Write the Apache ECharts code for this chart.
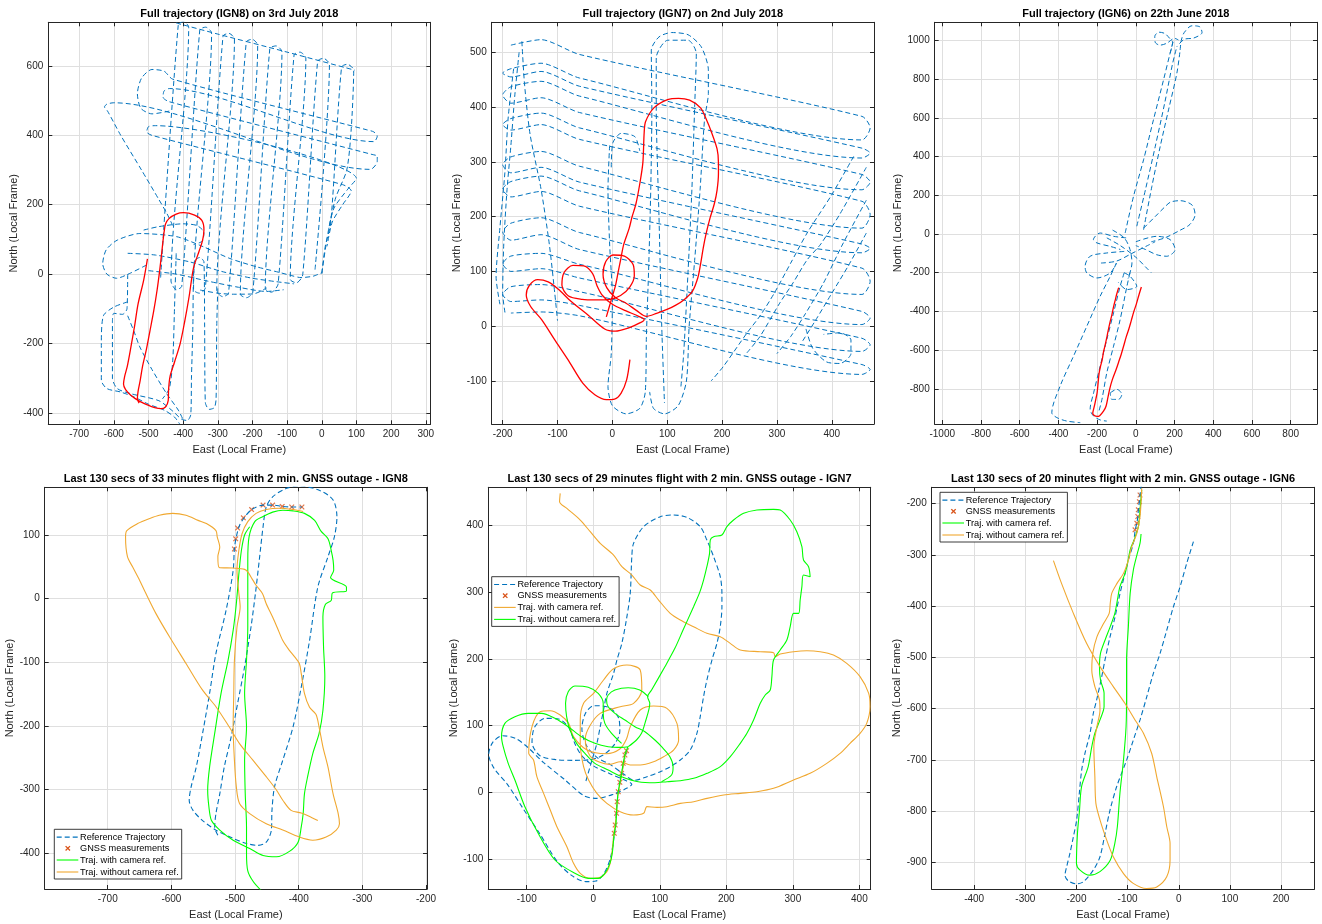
<!DOCTYPE html>
<html><head><meta charset="utf-8">
<script src="https://cdn.jsdelivr.net/npm/echarts@6.0.0/dist/echarts.min.js"></script>
<style>html,body{margin:0;padding:0;background:#fff}#c{width:1322px;height:924px}</style>
</head><body><div id="c"></div>
<script>
// ---------------- IGN8 ----------------
const ign8FullLanes = [[-465,-10],[-414,720],[-399,728],[-384,712],[-435,-20],[-420,-45],[-404,-35],[-352,704],[-335,712],[-318,695],[-370,-45],[-353,-55],[-336,-40],[-285,686],[-268,694],[-252,678],[-303,-48],[-286,-65],[-269,-55],[-218,669],[-201,677],[-185,660],[-235,-58],[-217,-68],[-199,-52],[-150,650],[-132,658],[-115,641],[-163,-42],[-145,-52],[-126,-28],[-80,632],[-63,640],[-46,623],[-91,-15],[-73,-25],[-55,-2],[-12,614],[5,622],[22,605],[-20,8]];
const ign8FullLanesEast = [[0,2],[10,80],[26,150],[57,597],[74,605],[92,588],[85,420],[72,300],[40,220],[20,130]];
const ign8FullTopEdge = [[-420,724],[-300,692],[-100,640],[95,588]];
const ign8FullSlantA = [[-440,470],[-490,462],[-522,478],[-532,520],[-520,565],[-490,590],[-455,585],[-430,562],[130,416],[150,410],[160,398],[150,382],[-440,535],[-455,528],[-458,510],[-440,497],[145,345],[160,340],[160,325],[140,302],[-600,494],[-620,490],[-627,482],[-618,470],[-580,400],[-520,300],[-470,215],[-447,175],[-430,140]];
const ign8FullSlantB = [[0,2],[18,120],[35,190],[75,245],[100,275],[-480,428],[-500,425],[-505,410],[-490,400],[60,258],[85,240],[60,200],[30,150],[15,80]];
const ign8FullBand1 = [[-506,26],[-554,2],[-592,-12],[-620,0],[-632,30],[-622,70],[-590,98],[-525,117],[-419,108],[-342,79],[-265,45],[-188,21],[-131,7],[-92,-3],[-60,-10],[-25,-6],[0,4]];
const ign8FullBand2 = [[-560,60],[-480,55],[-380,35],[-290,8],[-200,-12],[-130,-22],[-80,-28]];
const ign8FullBand3 = [[-500,10],[-420,0],[-330,-20],[-240,-38],[-160,-50],[-110,-45]];
const ign8FullBand4 = [[-351,-46],[-300,-55],[-255,-58],[-197,-57],[-159,-40]];
const ign8FullBand5 = [[-514,127],[-470,137],[-400,145],[-360,140],[-340,120],[-345,95],[-370,85]];
const ign8FullSouth1 = [[-560,0],[-562,-100],[-575,-116],[-600,-113],[-604,-140],[-604,-300],[-590,-330],[-550,-345],[-470,-365],[-430,-395],[-405,-418],[-388,-422],[-378,-405],[-376,-300],[-372,-150],[-370,0],[-365,40],[-352,48],[-340,35],[-338,-150],[-336,-370],[-325,-390],[-310,-385],[-305,-360],[-303,-150],[-300,-40]];
const ign8FullSouth2 = [[-560,-80],[-600,-95],[-630,-120],[-636,-200],[-636,-306],[-620,-330],[-580,-340],[-540,-355],[-500,-375],[-455,-392],[-425,-412],[-410,-432]];
const ign8FullSouth3 = [[-560,-120],[-540,-170],[-525,-210],[-490,-275],[-448,-344],[-414,-392],[-400,-420]];
const ign8FullSouth4 = [[-420,60],[-425,-100],[-430,-250],[-440,-330],[-460,-360]];
// last 130 s reference (time order) and GNSS part
const ign8Last = [[-527,-372],[-532,-359],[-530,-338],[-524,-307],[-517,-265],[-506,-217],[-496,-165],[-485,-107],[-475,-45],[-468,8],[-462,60],[-456,113],[-451,144],[-441,160],[-420,173],[-399,177],[-367,170],[-346,155],[-340,128],[-344,97],[-354,66],[-370,18],[-383,-66],[-396,-139],[-409,-202],[-425,-254],[-438,-296],[-442,-333],[-443,-364],[-451,-383],[-464,-388],[-482,-385],[-503,-377],[-530,-364],[-551,-349],[-566,-333],[-572,-317],[-569,-296],[-561,-265],[-551,-212],[-540,-149],[-530,-86],[-514,-18],[-503,44]];
const ign8GnssPath = [[-503,44],[-501,79],[-498,97],[-493,115],[-485,128],[-474,140],[-456,147],[-441,147],[-426,145],[-411,144],[-395,144]];
const ign8Gnss = [[-501,78],[-499,94],[-496,111],[-487,127],[-474,140],[-456,147],[-441,147],[-426,145],[-411,144],[-395,144]];
const ign8With = [[-459,-459],[-472,-444],[-480,-428],[-482,-401],[-482,-359],[-484,-307],[-485,-254],[-482,-202],[-485,-149],[-482,-97],[-480,-45],[-480,8],[-480,60],[-478,97],[-469,121],[-456,129],[-441,136],[-425,139],[-409,138],[-391,134],[-375,123],[-365,106],[-354,94],[-349,76],[-346,60],[-345,45],[-350,33],[-325,18],[-325,12],[-347,9],[-349,-3],[-358,-9],[-362,-29],[-361,-76],[-359,-123],[-362,-176],[-368,-212],[-378,-244],[-386,-280],[-391,-307],[-393,-338],[-396,-359],[-401,-383],[-414,-397],[-435,-406],[-456,-404],[-477,-393],[-503,-380],[-524,-364],[-537,-349],[-541,-328],[-543,-301],[-540,-265],[-532,-212],[-522,-149],[-511,-97],[-503,-50],[-498,-8],[-494,39],[-490,76],[-485,100],[-477,113]];
const ign8Without = [[-393,137],[-409,140],[-430,142],[-451,140],[-467,134],[-480,121],[-489,102],[-494,76],[-497,45],[-494,8],[-492,-13],[-497,-45],[-501,-97],[-502,-149],[-503,-202],[-501,-254],[-498,-296],[-493,-322],[-477,-338],[-451,-354],[-425,-364],[-399,-375],[-378,-380],[-357,-375],[-341,-364],[-336,-354],[-338,-338],[-346,-307],[-354,-265],[-362,-233],[-368,-202],[-373,-182],[-383,-171],[-391,-149],[-396,-118],[-399,-102],[-406,-92],[-415,-81],[-425,-66],[-434,-45],[-441,-29],[-451,-8],[-457,8],[-467,21],[-472,29],[-480,42],[-485,46],[-503,48],[-525,49],[-527,66],[-524,81],[-528,97],[-530,107],[-545,118],[-558,123],[-577,131],[-598,134],[-619,131],[-634,126],[-653,118],[-670,107],[-672,97],[-669,66],[-661,50],[-650,29],[-640,8],[-624,-24],[-603,-60],[-577,-102],[-551,-144],[-530,-170],[-509,-202],[-493,-228],[-472,-254],[-451,-280],[-435,-301],[-425,-317],[-412,-333],[-396,-337],[-380,-344],[-370,-349]];

// ---------------- IGN7 ----------------
const ign7FullEW = [[-185,513],[-130,523],[-60,496],[455,383],[470,362],[455,340],[-60,453],[-130,480],[-185,470],[-200,462],[-185,455],[-130,465],[-60,438],[455,325],[470,316],[455,307],[-60,420],[-130,447],[-185,437],[-200,422],[-185,407],[-130,417],[-60,390],[455,277],[470,263],[455,249],[-60,362],[-130,389],[-185,379],[-200,368],[-185,358],[-130,368],[-60,341],[455,228],[470,204],[455,179],[-60,292],[-130,319],[-185,309],[-200,295],[-185,280],[-130,290],[-60,263],[455,150],[470,142],[455,134],[-60,247],[-130,274],[-185,264],[-200,250],[-185,236],[-130,246],[-60,219],[455,106],[470,82],[455,58],[-60,171],[-130,198],[-185,188],[-200,172],[-185,157],[-130,167],[-60,140],[455,27],[470,15],[455,3],[-60,113],[-130,133],[-185,128],[-200,114],[-185,100],[-130,105],[-60,88],[455,-22],[470,-34],[455,-46],[-60,63],[-130,76],[-185,72],[-200,58],[-185,45],[-130,48],[-60,38],[455,-70],[470,-79],[455,-88],[-60,19],[-130,26],[-185,24]];
const ign7FullWest1 = [[-170,500],[-178,420],[-185,330],[-192,250],[-198,150],[-200,60],[-195,20]];
const ign7FullWest2 = [[-180,470],[-190,380],[-196,280],[-205,180],[-212,90],[-205,40]];
const ign7FullNS1 = [[-165,520],[-160,440],[-150,350],[-130,250],[-115,150],[-105,60],[-100,10]];
const ign7FullNS2 = [[-5,330],[-8,250],[-5,150],[0,50],[-2,-50],[-8,-110],[0,-145],[25,-160],[50,-150],[60,-120],[62,-20],[66,100],[70,250],[72,400],[71,504],[85,528],[108,536],[138,532],[162,510],[175,468],[175,425],[168,377],[160,250],[150,120],[140,0],[135,-100],[120,-145],[95,-160],[75,-150],[68,-120]];
const ign7FullNS3 = [[125,-110],[130,-50],[138,100],[145,250],[150,400],[153,498],[138,522],[101,522],[80,490],[80,400],[85,200],[90,0],[95,-140]];
const ign7FullNS4 = [[-2,290],[1,335],[16,352],[41,346],[50,320]];
const ign7FullDiag1 = [[440,310],[400,240],[355,170],[325,115],[295,60],[270,20],[245,-13],[202,-74],[180,-100]];
const ign7FullDiag2 = [[463,290],[415,205],[380,150],[355,121],[330,80],[305,42],[269,-19],[245,-49]];
const ign7FullDiag3 = [[463,230],[420,150],[385,79],[349,18],[325,-19],[300,-50]];
const ign7FullDiag4 = [[463,170],[430,110],[400,60],[370,10],[345,-30]];
const ign7FullLoopSE = [[353,-5],[365,-40],[390,-65],[415,-68],[435,-50],[435,-25],[415,-12],[385,-15]];
const ign7Last = [[-11,17],[-2,48],[5.5,73.5],[10.5,98.5],[15.5,123.5],[20.5,148.5],[30.6,178.5],[35.6,198.5],[43,223.5],[50,260],[55.6,298.5],[58,353.5],[60.6,373.5],[75.7,398.5],[100.7,413.5],[120.7,416],[140.8,412.5],[160.8,398.5],[170.8,378.5],[180.9,353.5],[190.9,323.5],[193.4,298.5],[193.4,278.5],[190.9,248.5],[185.9,223.5],[178.4,198.5],[170.8,168.5],[165.8,143.5],[160.8,113.5],[155.8,88.5],[145.8,63.5],[130.8,48.5],[115.7,38.5],[100.7,31],[80.7,23.5],[62,18],[45,28],[25,42],[6,52],[-10,70],[-17,95],[-12,118],[1,130],[22,128],[38,112],[40,92],[32,72],[15,56],[-5,49],[-30,48],[-55,49],[-80,55],[-92,75],[-88,98],[-72,111],[-52,110],[-36,96],[-28,74],[-18,56],[0,40],[25,28],[48,18],[58,12],[50,6],[30,-3],[5,-9],[-14,-5],[-44,20],[-75,45],[-99,68],[-117,81],[-136,85],[-151,75],[-157,57],[-149,36],[-129,12],[-105,-25],[-81,-61],[-54,-104],[-32,-125],[-11,-134],[4,-133],[16,-122],[26,-98],[32,-61]];
const ign7GnssPath = [[32,-61],[34,-40],[36,-14],[38,2],[42,25],[46,45],[50,62]];
const ign7Gnss = [[31.6,-61.5],[33,-49],[35,-31.5],[36,-14],[37.6,1],[40,15],[42.6,28.5],[45,43.5],[47.6,56],[50,62.5]];
const ign7With = [[-49.6,448.5],[-50.6,436],[-39.6,426],[-19.5,408.5],[-4.5,391],[10.5,373.5],[30.6,356],[43.1,338.5],[58.1,326],[70.6,311],[85.7,303.5],[98.2,288.5],[115.7,268.5],[130.8,258.5],[150.8,248.5],[170.8,238.5],[190.9,233.5],[205.9,223.5],[221,213.5],[251,211],[271,209.5],[273.5,203.5],[281,207.5],[301,211],[321,212.5],[341,211],[361,206],[381,193.5],[401,173.5],[414,148.5],[416,128.5],[411,103.5],[401,88.5],[386,73.5],[371,58.5],[351,43.5],[326,28.5],[301,18.5],[271,6],[246,1],[221,-1.5],[196,-4],[171,-9],[151,-14],[131,-16.5],[110.7,-21.5],[95.7,-22.5],[80.7,-21.5],[75.7,-31.5],[60.6,-34],[40.6,-29],[20.5,-16.5],[5.5,-1.5],[-7,18.5],[-14.5,38.5],[-19.5,73.5],[-19.5,108.5],[-14.5,133.5],[0.5,148.5],[15.5,168.5],[30,185],[50.6,191],[70.6,183.5],[73,153.5],[60.6,133.5],[40.6,128.5],[10.5,118.5],[-5,100],[-12,80],[-5,55],[10,45],[25,42],[40.6,46],[55.6,41],[70.6,41],[90.7,46],[105.7,53.5],[120.7,63.5],[128.3,78.5],[125.8,103.5],[110.7,126],[90.7,129.5],[70.6,123.5],[55.6,98.5],[50,80],[40,65],[20,58],[-9.5,63.5],[-29.6,83.5],[-37,103.5],[-49.6,116],[-64.6,122.5],[-79.7,121],[-92,98.5],[-97,58.5],[-89.7,48.5],[-84.7,23.5],[-74.6,-1.5],[-64.6,-26.5],[-54.6,-51.5],[-39.6,-81.5],[-29.6,-106.5],[-19.5,-121.5],[-4.5,-129],[10.5,-127.5],[20.5,-119],[25.5,-106.5],[28,-91.5],[31,-62],[34,-40],[36,-14],[38,1],[43,28],[46,44],[48,56],[50,62]];
const ign7WithoutA = [[52,68],[47.6,56],[45,43.5],[42.6,28.5],[37.6,1],[36,-14],[35,-31.5],[34,-49],[31.6,-61.5],[28.6,-91.5],[25,-106.5],[17.5,-121.5],[7.5,-129],[-7.5,-129],[-27.6,-121.5],[-57.6,-101.5],[-82.7,-61.5],[-102.7,-21.5],[-117.7,18.5],[-127.8,43.5],[-135.3,68.5],[-137.8,83.5],[-132.8,103.5],[-117.7,113.5],[-97.7,118.5],[-77.7,118.5],[-57.6,111],[-37.6,98.5],[-17.5,83.5],[2.5,73.5],[22.5,68.5],[42.6,67.5],[52.6,68.5]];
const ign7WithoutB = [[52.6,68.5],[65,78.5],[72.6,88.5],[77.7,103.5],[85,133.5],[81.7,143.5],[87.7,153.5],[107.7,188.5],[122.7,216],[135,243.5],[150.8,278.5],[160,300],[165.8,318.5],[170.8,338.5],[174.8,358.5],[175.9,378.5],[180.9,383.5],[193.4,386],[200.9,398.5],[210.9,408.5],[226,418.5],[246,423.5],[271,424.5],[281,423.5],[296,408.5],[306,391],[313.6,368.5],[316,348.5],[323.6,338.5],[326,323.5],[316,326],[313.6,308.5],[311,288.5],[308.6,268.5],[301,268.5],[296,248.5],[291,228.5],[281,213.5],[271,198.5],[268.5,173.5],[266,153.5],[258.5,146],[251,133.5],[241,108.5],[231,88.5],[221,73.5],[206,53.5],[191,38.5],[171,28.5],[151,21],[131,17.5],[111,16],[92.7,14.5],[67.6,16],[42.6,23.5],[22.5,33.5],[2.5,43.5],[-12.5,58.5],[-25,73.5],[-35,93.5],[-40,113.5],[-41.6,133.5],[-37.6,151],[-27.6,159.5],[-7.5,157.5],[7.5,148.5],[15,133.5],[15,118.5],[17.5,103.5],[27.6,88.5],[42.6,73.5]];
const ign7WithoutC = [[102.7,16],[117.7,26],[120,38.5],[115.2,53.5],[102.7,68.5],[92.7,78.5],[77.7,91],[62.6,98.5],[47.6,108.5],[32.6,118.5],[22.5,128.5],[20,138.5],[22.5,146],[32.6,153.5],[52.6,157],[70,153.5],[82.7,143.5]];

// ---------------- IGN6 ----------------
const ign6FullCenter = [[5,40],[50,230],[100,450],[150,680],[190,880],[212,967]];
const ign6FullWestLine = [[-55,5],[-12,194],[40,383],[91,589],[143,795],[177,933],[195,1002]];
const ign6FullEastLine = [[40,22],[83,246],[126,452],[169,641],[212,830],[229,950]];
const ign6FullTopLoopW = [[177,933],[190,990],[175,1010],[150,1035],[120,1042],[98,1020],[100,990],[125,975],[160,985],[200,1010],[220,1002]];
const ign6FullTopLoopE = [[229,950],[235,1000],[250,1040],[290,1075],[330,1070],[342,1040],[300,1012],[250,1005],[212,967]];
const ign6FullMid1 = [[40,30],[100,90],[150,140],[180,165],[230,172],[290,150],[306,100],[280,50],[230,20],[150,-20],[80,-40]];
const ign6FullMid2 = [[-50,-20],[-115,-12],[-184,5],[-219,-29],[-201,-46],[-132,-64],[-80,-80]];
const ign6FullMid3 = [[-60,-90],[-150,-98],[-236,-115],[-262,-167],[-253,-201],[-201,-227],[-132,-201],[-100,-150]];
const ign6FullMid4 = [[0,-40],[108,-12],[177,-29],[203,-81],[160,-115],[108,-107],[50,-80],[0,-60]];
const ign6FullMid5 = [[-60,-200],[-29,-219],[5,-270],[-46,-287],[-90,-250]];
const ign6FullMid6 = [[-150,-20],[-80,-60],[0,-120],[60,-180],[80,-200]];
const ign6FullMid7 = [[-180,-150],[-100,-140],[-20,-100],[60,-60],[100,-40]];
const ign6FullMid8 = [[-120,20],[-60,-20],[-30,-80],[-20,-150],[-40,-230]];
const ign6FullSouth1 = [[-100,-150],[-132,-218],[-184,-321],[-253,-476],[-322,-631],[-391,-785],[-434,-923],[-408,-948],[-356,-966],[-287,-974]];
const ign6FullSouth2 = [[-60,-200],[-81,-270],[-115,-407],[-150,-545],[-184,-682],[-218,-820],[-236,-905],[-218,-940],[-184,-960],[-150,-966]];
const ign6FullSouth3 = [[-30,-200],[-46,-270],[-81,-442],[-115,-579],[-150,-717],[-175,-854],[-193,-923]];
const ign6FullSouthLoop = [[-132,-820],[-98,-802],[-72,-828],[-89,-854],[-124,-854],[-132,-820]];
const ign6Last = [[28.7,-274],[15.7,-316],[2.6,-362],[-10.4,-401],[-23.5,-447],[-36.5,-492],[-49.6,-531],[-62.6,-577],[-75.7,-622],[-88.7,-661],[-101.8,-700],[-121.3,-752],[-134.4,-798],[-144,-843],[-154,-889],[-167,-915],[-186.6,-938],[-199.6,-942],[-216,-936],[-222.4,-925],[-219,-908],[-212.7,-882],[-206,-850],[-199.6,-817],[-194.4,-765],[-189.8,-720],[-183.3,-687],[-173.5,-648],[-167,-609],[-160.5,-583],[-150.7,-538],[-144.2,-505],[-134.4,-460],[-124.6,-421],[-114.8,-375],[-105,-336],[-98.5,-310],[-88.7,-277]];
const ign6GnssPath = [[-88.7,-277],[-85,-251],[-82,-238],[-80,-225],[-79,-212],[-77,-196],[-75.7,-183],[-73.7,-167],[-72,-150]];
const ign6Gnss = [[-73.7,-167],[-75.7,-183],[-77,-196],[-79,-212],[-80,-225],[-82,-238],[-85.5,-251]];
const ign6With = [[-72.4,-173],[-75.7,-212],[-79,-245],[-87.4,-271],[-95,-290],[-100,-316],[-105,-336],[-115,-362],[-120,-388],[-125,-414],[-134,-440],[-144,-466],[-153,-492],[-155,-518],[-153,-544],[-146,-570],[-146,-596],[-154,-622],[-164,-648],[-170,-674],[-177,-713],[-190,-752],[-194,-798],[-198,-843],[-200,-902],[-193,-915],[-174,-925],[-154,-918],[-134,-896],[-125,-863],[-120,-830],[-115,-765],[-108,-700],[-103,-635],[-102,-570],[-102,-505],[-98.5,-440],[-95,-375],[-88.7,-329],[-81,-297],[-75.7,-277],[-73.7,-259]];
const ign6Without = [[-72.4,-170],[-75.7,-225],[-82,-258],[-92,-284],[-98.5,-310],[-108,-336],[-121,-356],[-131,-375],[-134,-395],[-136,-414],[-147,-434],[-160,-460],[-168,-492],[-170,-525],[-164,-557],[-155,-583],[-154,-603],[-160,-635],[-166,-674],[-164,-733],[-162,-785],[-154,-817],[-141,-856],[-128,-889],[-108,-922],[-89,-941],[-63,-951],[-43,-948],[-23.5,-928],[-17,-896],[-17,-863],[-23.5,-830],[-30,-791],[-43,-733],[-53,-687],[-69,-648],[-85.5,-622],[-105,-590],[-128,-557],[-154,-518],[-180,-473],[-206,-414],[-229,-356],[-245,-311]];

const titles = ['Full trajectory (IGN8) on 3rd July 2018','Full trajectory (IGN7) on 2nd July 2018','Full trajectory (IGN6) on 22th June 2018',
 'Last 130 secs of 33 minutes flight with 2 min. GNSS outage - IGN8','Last 130 secs of 29 minutes flight with 2 min. GNSS outage - IGN7','Last 130 secs of 20 minutes flight with 2 min. GNSS outage - IGN6'];
const xName = 'East (Local Frame)', yName = 'North (Local Frame)';
const legendNames = ['Reference Trajectory','GNSS measurements','Traj. with camera ref.','Traj. without camera ref.'];

// ---------------- layout / style ----------------
const FONT = '"Liberation Sans", Arial, Helvetica, sans-serif';
const AXC = '#262626', GRIDC = '#dfdfdf';
const BLUE = '#0072BD', RED = '#FF0000', GREEN = '#00FF00', ORANGE = '#F0A830', GNSSC = '#D95319';
const XSYM = 'path://M0,1.5L1.5,0L5,3.5L8.5,0L10,1.5L6.5,5L10,8.5L8.5,10L5,6.5L1.5,10L0,8.5L3.5,5Z';
const P = [
 {l:48.3,t:22.3,w:382,h:402,xr:[-789,313],xi:100,yr:[-433,726],yi:200,tt:8},
 {l:491.7,t:22.3,w:382.3,h:401.7,xr:[-220,477],xi:100,yr:[-178.5,554.7],yi:100,tt:8},
 {l:934.7,t:22.3,w:382.3,h:401.7,xr:[-1039,936],xi:200,yr:[-981,1093],yi:200,tt:8},
 {l:44.7,t:487.3,w:382.3,h:401.7,xr:[-799,-198.5],xi:100,yr:[-456.6,175],yi:100,tt:473},
 {l:488.3,t:487.3,w:382.4,h:401.7,xr:[-157.7,417],xi:100,yr:[-145,457.6],yi:100,tt:473},
 {l:931.7,t:487.3,w:382.6,h:401.7,xr:[-483,265],xi:100,yr:[-952,-168],yi:100,tt:473}
];
function fmt(iv){ return v => (Math.abs(v/iv - Math.round(v/iv)) < 1e-6 ? String(Math.round(v)) : ''); }
const grid=[], xAxis=[], yAxis=[], title=[], series=[], graphic=[];
P.forEach((p,i)=>{
  grid.push({left:p.l, top:p.t, width:p.w, height:p.h, containLabel:false});
  title.push({text:titles[i], left:p.l+p.w/2, top:p.tt, textAlign:'center', padding:0,
    textStyle:{fontSize:11, fontWeight:'bold', color:'#000', fontFamily:FONT}});
  [false,true].forEach(sec=>{
    const common = {type:'value', gridIndex:i, axisLine:{show:true,onZero:false,lineStyle:{color:AXC,width:1}},
      axisTick:{show:true,inside:true,length:4,lineStyle:{color:AXC,width:1}}};
    xAxis.push(Object.assign({}, common, {position: sec?'top':'bottom', min:p.xr[0], max:p.xr[1], minInterval:p.xi, maxInterval:p.xi,
      splitNumber:Math.round((p.xr[1]-p.xr[0])/p.xi),
      axisLabel:{show:!sec, margin:5, fontSize:10, color:AXC, fontFamily:FONT, formatter:fmt(p.xi)},
      splitLine:{show:!sec, lineStyle:{color:GRIDC,width:1}},
      name: sec?'':xName, nameLocation:'middle', nameGap:20, nameTextStyle:{fontSize:11,color:AXC,fontFamily:FONT}}));
    yAxis.push(Object.assign({}, common, {position: sec?'right':'left', min:p.yr[0], max:p.yr[1], minInterval:p.yi, maxInterval:p.yi,
      splitNumber:Math.round((p.yr[1]-p.yr[0])/p.yi),
      axisLabel:{show:!sec, margin:5, fontSize:10, color:AXC, fontFamily:FONT, formatter:fmt(p.yi)},
      splitLine:{show:!sec, lineStyle:{color:GRIDC,width:1}},
      name: sec?'':yName, nameLocation:'middle', nameGap:22, nameTextStyle:{fontSize:11,color:AXC,fontFamily:FONT}}));
  });
});
function ln(data, gi, color, dash, w, smooth){
  series.push({type:'line', xAxisIndex:2*gi, yAxisIndex:2*gi, data:data, symbol:'none', showSymbol:false,
    smooth: smooth==null?0.3:smooth, silent:true, animation:false,
    lineStyle:{color:color, width:w||1, type: dash?[5,3]:'solid'}});
}
function sc(data, gi){
  series.push({type:'scatter', xAxisIndex:2*gi, yAxisIndex:2*gi, data:data, symbol:XSYM, symbolSize:5.5,
    itemStyle:{color:GNSSC}, silent:true, animation:false});
}
// panel 1
[ign8FullLanes, ign8FullLanesEast, ign8FullTopEdge, ign8FullSlantA, ign8FullSlantB, ign8FullBand1, ign8FullBand2, ign8FullBand3,
 ign8FullBand4, ign8FullBand5, ign8FullSouth1, ign8FullSouth2, ign8FullSouth3, ign8FullSouth4].forEach(d=>ln(d,0,BLUE,true,1,0.25));
ln(ign8Last,0,RED,false,1.3);
// panel 2
[ign7FullEW, ign7FullWest1, ign7FullWest2, ign7FullNS1, ign7FullNS2, ign7FullNS3, ign7FullNS4, ign7FullDiag1, ign7FullDiag2,
 ign7FullDiag3, ign7FullDiag4, ign7FullLoopSE].forEach(d=>ln(d,1,BLUE,true,1,0.25));
ln(ign7Last,1,RED,false,1.3);
// panel 3
[ign6FullCenter, ign6FullWestLine, ign6FullEastLine, ign6FullTopLoopW, ign6FullTopLoopE, ign6FullMid1, ign6FullMid2, ign6FullMid3,
 ign6FullMid4, ign6FullMid5, ign6FullMid6, ign6FullMid7, ign6FullMid8, ign6FullSouth1, ign6FullSouth2, ign6FullSouth3, ign6FullSouthLoop].forEach(d=>ln(d,2,BLUE,true,1,0.3));
ln(ign6Last,2,RED,false,1.3);
// panel 4
ln(ign8Last.concat(ign8GnssPath),3,BLUE,true,1.1); sc(ign8Gnss,3); ln(ign8With,3,GREEN,false,1.1); ln(ign8Without,3,ORANGE,false,1.1);
// panel 5
ln(ign7Last.concat(ign7GnssPath),4,BLUE,true,1.1); sc(ign7Gnss,4); ln(ign7With,4,ORANGE,false,1.1);
ln(ign7WithoutA,4,GREEN,false,1.1); ln(ign7WithoutB,4,GREEN,false,1.1); ln(ign7WithoutC,4,GREEN,false,1.1);
// panel 6
ln(ign6Last.concat(ign6GnssPath),5,BLUE,true,1.1); sc(ign6Gnss,5); ln(ign6With,5,GREEN,false,1.1); ln(ign6Without,5,ORANGE,false,1.1);

// legends (drawn boxes)
function legendBox(x0,y0,c3,c4){
  const Z=100, rows=[7.8,19,30.7,42.7], ch=[
    {type:'rect', z:Z, shape:{x:x0,y:y0,width:127.4,height:49.7}, style:{fill:'#fff',stroke:AXC,lineWidth:0.9}},
    {type:'line', z:Z+1, shape:{x1:x0+2.4,y1:y0+rows[0],x2:x0+24,y2:y0+rows[0]}, style:{stroke:BLUE,lineWidth:1.1,lineDash:[5,3]}},
    {type:'line', z:Z+1, shape:{x1:x0+11.3,y1:y0+rows[1]-2.2,x2:x0+15.7,y2:y0+rows[1]+2.2}, style:{stroke:GNSSC,lineWidth:1.3}},
    {type:'line', z:Z+1, shape:{x1:x0+11.3,y1:y0+rows[1]+2.2,x2:x0+15.7,y2:y0+rows[1]-2.2}, style:{stroke:GNSSC,lineWidth:1.3}},
    {type:'line', z:Z+1, shape:{x1:x0+2.4,y1:y0+rows[2],x2:x0+24,y2:y0+rows[2]}, style:{stroke:c3,lineWidth:1.1}},
    {type:'line', z:Z+1, shape:{x1:x0+2.4,y1:y0+rows[3],x2:x0+24,y2:y0+rows[3]}, style:{stroke:c4,lineWidth:1.1}}];
  legendNames.forEach((t,k)=>ch.push({type:'text', z:Z+1, style:{text:t, x:x0+25.7, y:y0+rows[k], fill:'#000',
    font:'9.2px '+FONT, verticalAlign:'middle', textVerticalAlign:'middle'}}));
  ch.forEach(c=>graphic.push(Object.assign({silent:true}, c)));
}
legendBox(54.3,829.3,GREEN,ORANGE);
legendBox(491.7,576.7,ORANGE,GREEN);
legendBox(940,492.3,GREEN,ORANGE);

const chart = echarts.init(document.getElementById('c'), null, {renderer:'canvas'});
chart.setOption({animation:false, backgroundColor:'#fff', title, grid, xAxis, yAxis, series, graphic});
</script></body></html>
